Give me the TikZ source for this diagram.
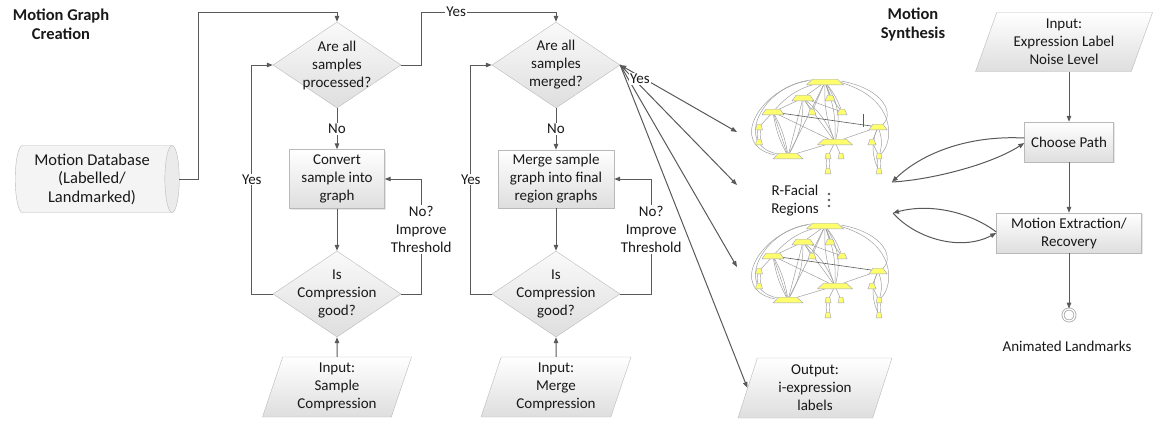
\documentclass[tikz,border=0pt]{standalone}
\usepackage{fontspec}
\setmainfont{Carlito}
\usepackage{tikz}
\usetikzlibrary{arrows.meta,shapes.geometric,shadows}
\definecolor{flowline}{RGB}{89,89,89}
\definecolor{boxedge}{RGB}{185,185,185}
\definecolor{boxfill}{RGB}{222,222,222}
\definecolor{graphnode}{RGB}{255,255,110}
\definecolor{graphrim}{RGB}{160,160,205}
\definecolor{graphedge}{RGB}{160,160,160}
\definecolor{txtdark}{RGB}{25,25,25}

\begin{document}
\begin{tikzpicture}[x=1pt,y=-1pt,
    font=\fontsize{15pt}{18pt}\selectfont, text=txtdark,
    flow/.style={draw=flowline, line width=1pt, -{Triangle[length=6pt,width=4.5pt]}},
    decision/.style={diamond, draw=boxedge, top color=gray!4, bottom color=boxfill,
        inner sep=0pt, minimum width=128pt, minimum height=86pt},
    procbox/.style={rectangle, draw=boxedge, top color=white, bottom color=boxfill,
        align=center, inner sep=2pt,
        drop shadow={shadow xshift=1.2pt, shadow yshift=-1.2pt, opacity=0.2}},
    iobox/.style={trapezium, trapezium left angle=68, trapezium right angle=112,
        trapezium stretches body, draw=boxedge, top color=white, bottom color=boxfill,
        align=center, inner sep=1pt},
    dbase/.style={cylinder, shape border rotate=0, aspect=0.25, draw=boxedge,
        cylinder uses custom fill, cylinder body fill=gray!9, cylinder end fill=gray!16,
        align=center, minimum width=67pt, minimum height=164pt,
        font=\fontsize{16.5pt}{18.5pt}\selectfont},
    heading/.style={align=center, font=\fontsize{16.5pt}{19pt}\selectfont\bfseries},
    gnode/.style={draw=graphrim, line width=0.4pt, fill=graphnode},
    gedge/.style={draw=graphedge, line width=0.5pt},
    lbl/.style={fill=white, inner sep=1pt}]

    \useasboundingbox (0,0) rectangle (1157,421);

    % headings
    \node[heading] (hcreate) at (61,24) {Motion Graph\\Creation};
    \node[heading] (hsynth) at (913,24) {Motion\\Synthesis};

    % motion graph creation
    \node[dbase] (mdb) at (92,179) {Motion Database\\(Labelled/\\Landmarked)};

    \node[decision] (procq) at (337,65) {};
    \node[align=center] (procqtxt) at (procq) {Are all\\samples\\processed?};
    \node[procbox, minimum width=95pt, minimum height=59pt] (convbox) at (337,179)
        {Convert\\sample into\\graph};
    \node[decision] (compqa) at (337,294) {};
    \node[align=center] (compqatxt) at (compqa) {Is\\Compression\\good?};
    \node[iobox, minimum width=149pt, minimum height=60pt] (sampin) at (337,387)
        {Input:\\Sample\\Compression};

    \node[decision] (mergeq) at (556,65) {};
    \node[align=center] (mergeqtxt) at (mergeq) {Are all\\samples\\merged?};
    \node[procbox, minimum width=116pt, minimum height=58pt] (mergebox) at (556,179)
        {Merge sample\\graph into final\\region graphs};
    \node[decision] (compqb) at (556,294) {};
    \node[align=center] (compqbtxt) at (compqb) {Is\\Compression\\good?};
    \node[iobox, minimum width=150pt, minimum height=60pt] (mergein) at (556,387)
        {Input:\\Merge\\Compression};

    \draw[flow] (mdb.east) -| (198,12) -| (procq.north);
    \draw[flow] (procq.south) -- node[lbl] (noa) {No} (convbox.north);
    \draw[flow] (convbox.south) -- (compqa.north);
    \draw[flow] (sampin.north) -- (compqa.south);
    \draw[flow] (compqa.west) -- ++(-21,0) |- node[pos=0.25, lbl] (yesa) {Yes} (procq.west);
    \draw[flow] (compqa.east) -- ++(20,0) |- node[pos=0.28, lbl, align=center] (improvea)
        {No?\\Improve\\Threshold} (convbox.east);

    \draw[flow] (procq.east) -- ++(20,0) -- ++(0,-53) -| node[pos=0.13, lbl] (yesb) {Yes} (mergeq.north);
    \draw[flow] (mergeq.south) -- node[lbl] (nob) {No} (mergebox.north);
    \draw[flow] (mergebox.south) -- (compqb.north);
    \draw[flow] (mergein.north) -- (compqb.south);
    \draw[flow] (compqb.west) -- ++(-21,0) |- node[pos=0.25, lbl] (yesc) {Yes} (mergeq.west);
    \draw[flow] (compqb.east) -- ++(31,0) |- node[pos=0.28, lbl, align=center] (improveb)
        {No?\\Improve\\Threshold} (mergebox.east);

    % region graphs
    \foreach \gy in {75,219}{
        \begin{scope}[shift={(735,\gy)}]
            \foreach \nn/\nx/\ny in {1/90/7, 2/68/23, 3/95/23, 4/38/37, 5/77/37, 6/107/37,
                7/24/52, 8/24/67, 9/143/52, 10/100/67, 11/137/67, 12/53/81, 13/93/81,
                14/106/81, 15/93/96, 16/144/81, 17/144/96}
                \coordinate (n\nn) at (\nx,\ny);
            % edges
            \draw[gedge] (72,6) .. controls (25,14) and (-8,70) .. (40,80);
            \draw[gedge] (76,5) .. controls (28,10) and (-3,70) .. (43,79);
            \draw[gedge] (106,6) .. controls (150,14) and (160,40) .. (147,50);
            \draw[gedge] (104,7) .. controls (160,22) and (160,65) .. (146,79);
            \foreach \a/\b in {1/2, 1/3, 1/5, 2/4, 2/5, 2/6, 2/10, 2/12, 4/7, 4/10, 4/12,
                9/10, 9/11, 10/12, 10/13, 10/14, 11/16, 1/12}
                \draw[gedge] (n\a) -- (n\b);
            \foreach \a/\b/\bb in {1/10/12, 1/10/-12, 1/10/25, 1/6/10, 1/6/-10, 1/4/-20,
                2/10/15, 4/12/10, 4/12/-10, 9/16/20, 9/17/-25, 7/8/25, 7/8/-25,
                13/15/25, 13/15/-25, 16/17/25, 16/17/-25, 2/12/15}
                \draw[gedge] (n\a) to[bend left=\bb] (n\b);
            \draw[flowline, line width=0.6pt] (n4) -- (n9);
            % trapezoid vertices of the region nodes
            \foreach \nn/\nw/\ns in {1/37/6, 2/22/4, 3/10/2.5, 4/22/4, 5/8/2, 6/10/2.5,
                7/7/1.5, 8/7/1.5, 9/18/4, 10/35/6, 11/8/2, 12/30/6, 13/6/1.2, 14/6/1.2,
                15/6/1.2, 16/6/1.2, 17/6/1.2}
                \filldraw[gnode] ([shift={({-\nw/2},2.8)}]n\nn) -- ([shift={({\nw/2},2.8)}]n\nn)
                    -- ([shift={({\nw/2-\ns},-2.8)}]n\nn) -- ([shift={({-\nw/2+\ns},-2.8)}]n\nn)
                    -- cycle;
        \end{scope}
    }
    \draw[flowline, line width=1pt] (863,114) -- (863,127);

    \node[align=center] (rfacial) at (795,201) {R-Facial\\Regions};
    \foreach \dy in {194,200,206}
        \fill[flowline] (829,\dy) circle (1.4);

    \node[iobox, minimum width=154pt, minimum height=60pt] (outlab) at (815,388)
        {Output:\\i-expression\\labels};

    \coordinate (gin1) at (737,132);
    \coordinate (rin) at (737,185);
    \coordinate (gin2) at (737,267);
    \draw[flow, {Triangle[length=6pt,width=4.5pt]}-{Triangle[length=6pt,width=4.5pt]}]
        (mergeq.east) -- (gin1);
    \draw[flow] (mergeq.east) -- (rin);
    \draw[flow] (mergeq.east) -- (gin2);
    \draw[flow] (mergeq.east) -- (outlab.west);
    \node[lbl] (yesd) at (640,79) {Yes};

    % motion synthesis
    \node[iobox, trapezium left angle=66, trapezium right angle=114,
        minimum width=177pt, minimum height=59pt] (exprin) at (1064,42)
        {Input:\\Expression Label\\Noise Level};
    \node[procbox, minimum width=89pt, minimum height=40pt] (chpath) at (1069,142) {Choose Path};
    \node[procbox, minimum width=145pt, minimum height=40pt] (mextract) at (1069,233)
        {Motion Extraction/\\Recovery};
    \node[circle, draw=gray!70, double=white, double distance=1.3pt, line width=0.8pt,
        minimum size=12pt, inner sep=0pt] (endst) at (1069,315) {};
    \node (anim) at (1067,346) {Animated Landmarks};

    \draw[flow] (chpath.north |- exprin.south) -- (chpath.north);
    \draw[flow] (chpath.south) -- (mextract.north);
    \draw[flow] (mextract.south) -- (endst.north);

    \coordinate (gout) at (892,182);
    \coordinate (rout) at (893,213);
    \draw[flow] ([yshift=4pt]chpath.west) .. controls (965,135) and (920,155) .. (gout);
    \draw[flow] (gout) .. controls (930,180) and (990,165) .. ([yshift=-1pt]chpath.west);
    \draw[flow] ([yshift=1pt]mextract.west) .. controls (970,212) and (930,203) .. (rout);
    \draw[flow] (rout) .. controls (915,238) and (960,252) .. (mextract.west);
\end{tikzpicture}
\end{document}
